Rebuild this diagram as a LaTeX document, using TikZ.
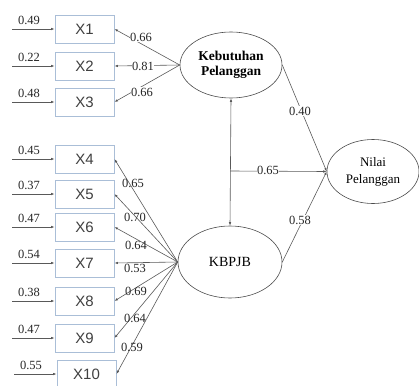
\documentclass[tikz,border=0pt]{standalone}
\usepackage{fontspec}
\setmainfont{Liberation Serif}
\newfontfamily\boxfont{Liberation Sans}
\usetikzlibrary{arrows.meta,shapes.geometric}
\definecolor{boxcol}{RGB}{170,190,215}
\begin{document}
\begin{tikzpicture}[x=1pt,y=-1pt,
  ind/.style={draw=boxcol, line width=0.9pt, fill=white, minimum width=59pt, minimum height=28pt, inner sep=0pt, font=\boxfont\fontsize{15}{15}\selectfont, text=black!75},
  lat/.style={draw=black!70, ellipse, line width=0.6pt, inner sep=0pt, align=center, fill=white},
  con/.style={draw=black!65, line width=0.6pt, -{Latex[length=3.5pt,width=2.5pt]}},
  num/.style={font=\fontsize{12.5}{12.5}\selectfont, inner sep=0.5pt, text=black!85},
  numw/.style={num, fill=white}
]
\useasboundingbox (0,0) rectangle (419,385);
% latent variables
\node[lat, minimum width=102pt, minimum height=66pt, font=\bfseries\fontsize{13.5}{15}\selectfont] (K) at (231,65) {Kebutuhan\\Pelanggan};
\node[lat, minimum width=104pt, minimum height=72pt, font=\fontsize{14}{14}\selectfont] (B) at (230,262) {KBPJB};
\node[lat, minimum width=92pt, minimum height=64pt, font=\fontsize{13}{17}\selectfont] (N) at (373,171.5) {Nilai\\Pelanggan};
% indicators
\foreach \n/\y/\e/\ex in {1/29/0.49/12,2/66/0.22/12,3/102/0.48/12,4/159/0.45/12,5/194/0.37/12,6/227/0.47/12,7/263/0.54/12,8/301/0.38/12,9/338/0.47/12}{
  \node[ind] (X\n) at (84.5,\y) {X\n};
  \coordinate (e\n) at (\ex,\y);
  \draw[con] (e\n) -- (X\n.west);
  \node[num] (en\n) at (29,\y-9) {\e};
}
\node[ind] (X10) at (86.5,374) {X10};
\coordinate (e10) at (14,374);
\draw[con] (e10) -- (X10.west);
\node[num] (en10) at (31,365) {0.55};
% Kebutuhan loadings
\draw[con] (K.west) -- (X1.east);
\draw[con] (K.west) -- (X2.east);
\draw[con] (K.west) -- (X3.east);
\node[numw] (k1) at (141,37) {0.66};
\node[numw] (k2) at (143,66) {0.81};
\node[numw] (k3) at (142,92) {0.66};
% KBPJB loadings
\foreach \n in {4,...,10}{
  \draw[con] (B.west) -- (X\n.east);
}
\node[num] (b4) at (133,183) {0.65};
\node[num] (b5) at (135,217) {0.70};
\node[num] (b6) at (136,245) {0.64};
\node[num] (b7) at (135,268) {0.53};
\node[num] (b8) at (136,291) {0.69};
\node[num] (b9) at (135,318) {0.64};
\node[num] (b10) at (132,347) {0.59};
% structural paths
\draw[con, {Latex[length=3.5pt,width=2.5pt]}-{Latex[length=3.5pt,width=2.5pt]}] (K.south) -- (B.north);
\coordinate (m) at (230,171);
\draw[con] (m) -- (N.west);
\node[numw] (c) at (268,170) {0.65};
\draw[con] (K.east) -- (N.west);
\node[numw] (p1) at (300,111) {0.40};
\draw[con] (B.east) -- (N.west);
\node[numw] (p2) at (300,220) {0.58};
\end{tikzpicture}
\end{document}
